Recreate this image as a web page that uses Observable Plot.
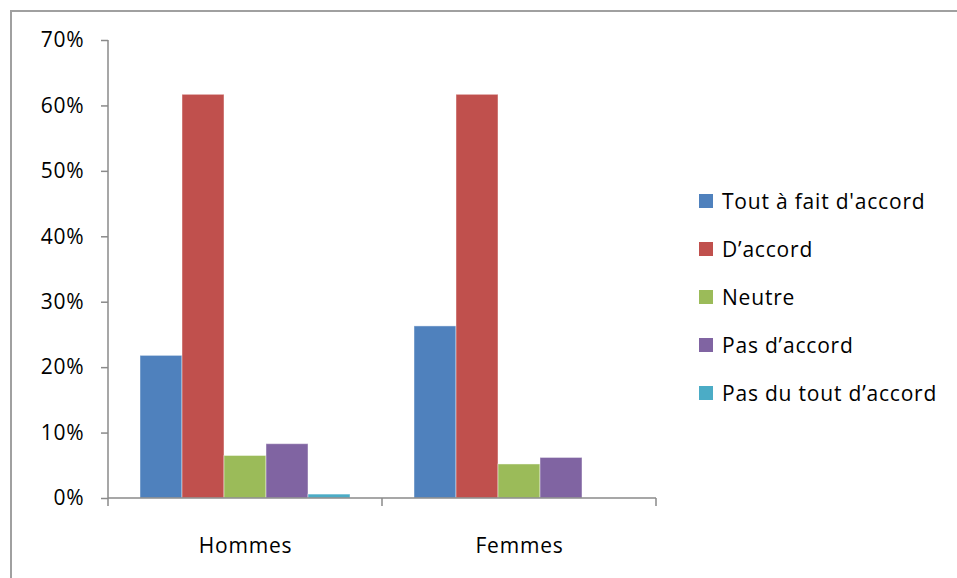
<!DOCTYPE html>
<html>
<head>
<meta charset="utf-8">
<script src="https://cdn.jsdelivr.net/npm/d3@7"></script>
<script src="https://cdn.jsdelivr.net/npm/@observablehq/plot@0.6"></script>
<style>
  html, body { margin: 0; padding: 0; background: #fff; }
  #wrap { position: relative; width: 957px; height: 578px; overflow: hidden; font-family: "Open Sans", sans-serif; }
  #legend { position: absolute; left: 699px; top: 177px; font-size: 21px; letter-spacing: 0.8px; color: #000; }
  #legend .row { display: flex; align-items: center; height: 48px; white-space: nowrap; }
  #legend .sw { width: 14px; height: 14px; margin-right: 9px; flex: none; }
</style>
</head>
<body>
<div id="wrap"></div>
<script>
const groups = ["Hommes", "Femmes"];
const series = ["Tout à fait d'accord", "D’accord", "Neutre", "Pas d’accord", "Pas du tout d’accord"];
const hommes = [0.218, 0.617, 0.065, 0.083, 0.006];
const femmes = [0.263, 0.617, 0.052, 0.062, 0.0];
const colors = ["#4F81BD", "#C0504D", "#9BBB59", "#8064A2", "#4BACC6"];
const yTicks = [0, 0.1, 0.2, 0.3, 0.4, 0.5, 0.6, 0.7];

const data = [];
series.forEach((s, i) => {
  data.push({group: groups[0], series: s, value: hommes[i]});
  data.push({group: groups[1], series: s, value: femmes[i]});
});

const axisGray = "#8a8a8a";

const plot = Plot.plot({
  width: 957,
  height: 578,
  marginLeft: 108,
  marginRight: 301,
  marginTop: 40,
  marginBottom: 80,
  style: {fontFamily: "Open Sans, sans-serif", fontSize: "21px", letterSpacing: "0.8px", color: "#000", background: "transparent"},
  fx: {domain: groups, padding: 0, label: null},
  x: {domain: series, paddingInner: 0, paddingOuter: 0.75, axis: null},
  y: {domain: [0, 0.7], axis: null},
  color: {domain: series, range: colors},
  marks: [
    Plot.barY(data, {fx: "group", x: "series", y: "value", fill: "series", stroke: "#ffffff", strokeOpacity: 0.45, strokeWidth: 1}),
    Plot.axisY({ticks: yTicks, tickFormat: d3.format(".0%"), tickSize: 7, tickPadding: 17, stroke: axisGray, strokeWidth: 1.5, fill: "#000", label: null, fontSize: 21}),
    Plot.axisFx({anchor: "bottom", tickSize: 0, tickPadding: 40, label: null, fontSize: 21, fill: "#000"})
  ]
});

// Axis lines and category boundary ticks drawn from the plot's own scales
const fx = plot.scale("fx");
const y = plot.scale("y");
const svg = d3.select(plot.tagName === "svg" ? plot : plot.querySelector("svg"));
const x0 = fx.apply(groups[0]);
const xEnd = fx.apply(groups[groups.length - 1]) + fx.bandwidth;
const bounds = groups.map(g => fx.apply(g)).concat([xEnd]);
const yZero = y.apply(0);
const yTop = y.apply(0.7);

// outer chart-area border (extends beyond the picture on right and bottom)
svg.insert("rect", ":first-child")
  .attr("x", 11).attr("y", 11).attr("width", 2000).attr("height", 2000)
  .attr("fill", "none").attr("stroke", "#a0a0a0").attr("stroke-width", 2);

const g = svg.append("g").attr("stroke", axisGray).attr("stroke-width", 1.5).attr("fill", "none");
g.append("line").attr("x1", x0).attr("x2", x0).attr("y1", yTop).attr("y2", yZero);
g.append("line").attr("x1", x0).attr("x2", xEnd).attr("y1", yZero).attr("y2", yZero);
bounds.forEach(b => {
  g.append("line").attr("x1", b).attr("x2", b).attr("y1", yZero).attr("y2", yZero + 8);
});

const wrap = document.getElementById("wrap");
wrap.appendChild(plot);

// legend
const color = plot.scale("color");
const legend = document.createElement("div");
legend.id = "legend";
series.forEach(s => {
  const row = document.createElement("div");
  row.className = "row";
  const sw = document.createElement("span");
  sw.className = "sw";
  sw.style.background = color.apply(s);
  const t = document.createElement("span");
  t.textContent = s;
  row.appendChild(sw);
  row.appendChild(t);
  legend.appendChild(row);
});
wrap.appendChild(legend);
</script>
</body>
</html>
